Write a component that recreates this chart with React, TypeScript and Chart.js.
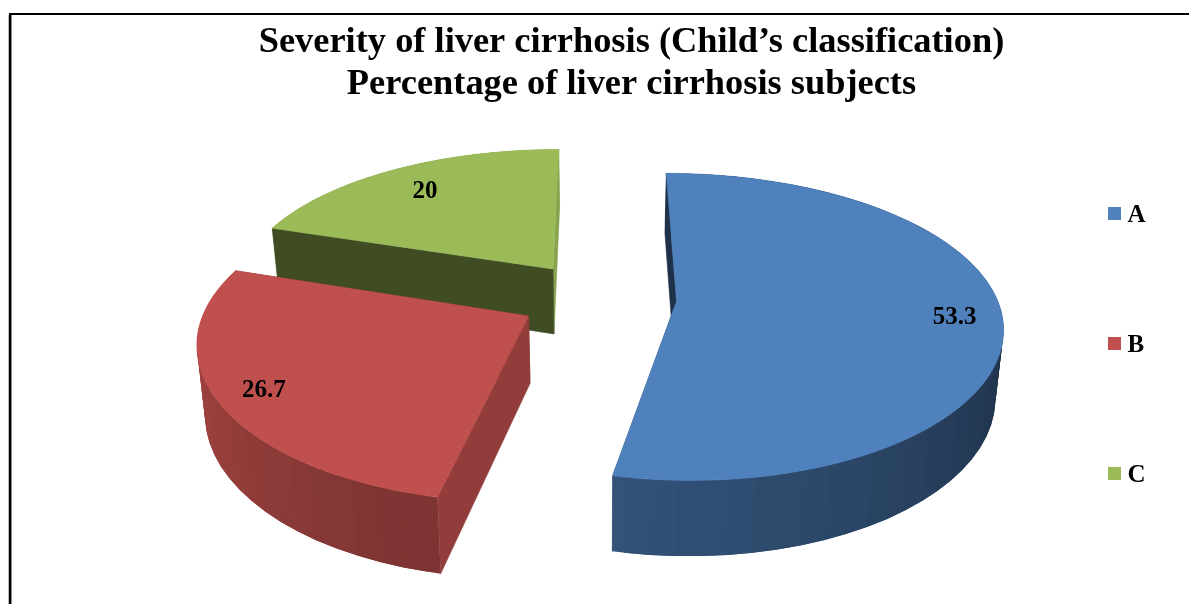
import React, { useEffect, useRef } from "react";
import { Chart, registerables } from "chart.js";

Chart.register(...registerables);

const categories = ["A", "B", "C"];
const values = [53.3, 26.7, 20];
const valueLabels = ["53.3", "26.7", "20"];
const colours = ["#4f81bd", "#c0504d", "#9bbb59"];
const titleLines = ["Severity of liver cirrhosis (Child\u2019s classification)", "Percentage of liver cirrhosis subjects"];

// Shade of the flat cut faces: [start face, end face] of every slice.
const faceShades = [[0.38, 0.6], [0.76, 0.6], [0.41, 0.87]];
// How far along its mid-angle each value label sits, as a fraction of the radius.
const labelReach = [0.855, 0.86, 0.79];
const drawOrder = [2, 1, 0];

const FONT = '"Liberation Serif", "Times New Roman", serif';
const view = { cx: 598, cy: 297.5, rx: 320, ry: 148, perspX: 0.15, perspY: 0.166, depth: 66.5, explode: 0.246, converge: 0.02 };

function project(u: number, v: number, bottom: boolean) {
  const wx = 1 - view.perspX * v;
  const w = 1 - view.perspY * v;
  let x = view.cx + (view.rx * u) / wx;
  let y = view.cy + (view.ry * v) / w;
  if (bottom) {
    y += view.depth / Math.pow(w, 0.7);
    x += (view.cx - x) * view.converge;
  }
  return { x, y };
}

function shade(hex: string, f: number) {
  const n = parseInt(hex.slice(1), 16);
  const c = [(n >> 16) & 255, (n >> 8) & 255, n & 255].map((k) => Math.round(k * f));
  return `rgb(${c[0]},${c[1]},${c[2]})`;
}

function fillPoly(ctx: CanvasRenderingContext2D, pts: { x: number; y: number }[], colour: string, edge: boolean) {
  ctx.beginPath();
  pts.forEach((p, i) => (i ? ctx.lineTo(p.x, p.y) : ctx.moveTo(p.x, p.y)));
  ctx.closePath();
  ctx.fillStyle = colour;
  ctx.fill();
  if (edge) {
    ctx.strokeStyle = colour;
    ctx.lineWidth = 0.6;
    ctx.stroke();
  }
}

function swatch(colour: string) {
  const c = document.createElement("canvas");
  c.width = 13;
  c.height = 17;
  const g = c.getContext("2d")!;
  g.fillStyle = colour;
  g.fillRect(0, 0, 13, 13);
  return c;
}

const pie3d = {
  id: "pie3d",
  afterLayout(chart: any) {
    const t = chart.titleBlock;
    t.left = 74;
    t.right = 1189;
    const l = chart.legend;
    l.left = 1009;
    l.right = 1189;
    l.top = 98;
    l.bottom = 604;
  },
  beforeDraw(chart: any) {
    const ctx: CanvasRenderingContext2D = chart.ctx;
    ctx.save();
    ctx.fillStyle = "#bbb";
    ctx.fillRect(8, 15, 1, 589);
    ctx.fillStyle = "#888";
    ctx.fillRect(11, 15, 1, 589);
    ctx.fillStyle = "#000";
    ctx.fillRect(9, 13, 2, 591);
    ctx.fillRect(9, 13, 1180, 2);
    ctx.restore();
  },
  beforeDatasetsDraw(chart: any) {
    const ctx: CanvasRenderingContext2D = chart.ctx;
    const arcs = chart.getDatasetMeta(0).data;
    const centres: { u: number; v: number; mid: number }[] = [];
    arcs.forEach((el: any) => {
      const mid = (el.startAngle + el.endAngle) / 2;
      centres.push({ u: Math.cos(mid) * view.explode, v: Math.sin(mid) * view.explode, mid });
    });
    ctx.save();
    drawOrder.forEach((i) => {
      const el = arcs[i];
      const base = colours[i];
      const o = centres[i];
      const at = (a: number) => ({ u: o.u + Math.cos(a), v: o.v + Math.sin(a) });
      const quads: { v: number; pts: any[]; col: string; edge: boolean }[] = [];
      const radial = (a: number, f: number) => {
        const p = at(a);
        quads.push({
          v: (p.v + o.v) / 2,
          col: shade(base, f),
          edge: true,
          pts: [project(o.u, o.v, false), project(p.u, p.v, false), project(p.u, p.v, true), project(o.u, o.v, true)],
        });
      };
      radial(el.startAngle, faceShades[i][0]);
      radial(el.endAngle, faceShades[i][1]);
      const step = (4 * Math.PI) / 180;
      for (let a = el.startAngle; a < el.endAngle - 1e-6; a += step) {
        const b = Math.min(a + step, el.endAngle);
        const p = at(Math.max(a - step / 2, el.startAngle));
        const q = at(Math.min(b + step / 2, el.endAngle));
        const mid = at((a + b) / 2);
        const deg = (((a + b) / 2 + Math.PI / 2) * 180) / Math.PI;
        const f = Math.max(0.36, Math.min(0.88, 0.38 + (deg - 100) * 0.0029));
        quads.push({
          v: mid.v,
          col: shade(base, f),
          edge: false,
          pts: [project(p.u, p.v, false), project(mid.u, mid.v, false), project(q.u, q.v, false), project(q.u, q.v, true), project(mid.u, mid.v, true), project(p.u, p.v, true)],
        });
      }
      quads.sort((m, n) => m.v - n.v).forEach((k) => fillPoly(ctx, k.pts, k.col, k.edge));
      const top = [project(o.u, o.v, false)];
      const n = Math.ceil((el.endAngle - el.startAngle) / (Math.PI / 180));
      for (let k = 0; k <= n; k++) {
        const p = at(el.startAngle + ((el.endAngle - el.startAngle) * k) / n);
        top.push(project(p.u, p.v, false));
      }
      fillPoly(ctx, top, base, true);
    });
    ctx.fillStyle = "#000";
    ctx.font = `bold 25px ${FONT}`;
    ctx.textAlign = "center";
    ctx.textBaseline = "middle";
    arcs.forEach((_: any, i: number) => {
      const o = centres[i];
      const r = labelReach[i];
      const p = project(o.u + Math.cos(o.mid) * r, o.v + Math.sin(o.mid) * r, false);
      ctx.fillText(valueLabels[i], p.x, p.y + 3);
    });
    ctx.restore();
    return false;
  },
};

export default function App() {
  const ref = useRef<HTMLCanvasElement>(null);
  useEffect(() => {
    const chart = new Chart(ref.current!, {
      type: "pie",
      data: {
        labels: categories,
        datasets: [{ data: values, backgroundColor: colours, borderWidth: 0 }],
      },
      plugins: [pie3d],
      options: {
        responsive: false,
        animation: false,
        plugins: {
          tooltip: { enabled: false },
          title: {
            display: true,
            text: titleLines,
            color: "#000",
            font: { family: FONT, size: 36.4, weight: "bold", lineHeight: 1.15 },
            padding: { top: 22, bottom: 0 },
          },
          legend: {
            position: "right",
            align: "start",
            labels: {
              color: "#000",
              font: { family: FONT, size: 25, weight: "bold" },
              padding: 105,
              usePointStyle: true,
              pointStyleWidth: 1,
              boxHeight: 13,
              generateLabels: () =>
                categories.map((text, i) => ({
                  text,
                  index: i,
                  fillStyle: colours[i],
                  strokeStyle: colours[i],
                  lineWidth: 0,
                  pointStyle: swatch(colours[i]),
                })),
            },
          },
        },
      },
    } as any);
    return () => chart.destroy();
  }, []);
  return (
    <div style={{ position: "absolute", left: 0, top: 0, width: 1189, height: 604 }}>
      <canvas ref={ref} width={1189} height={604} style={{ display: "block" }} />
    </div>
  );
}
